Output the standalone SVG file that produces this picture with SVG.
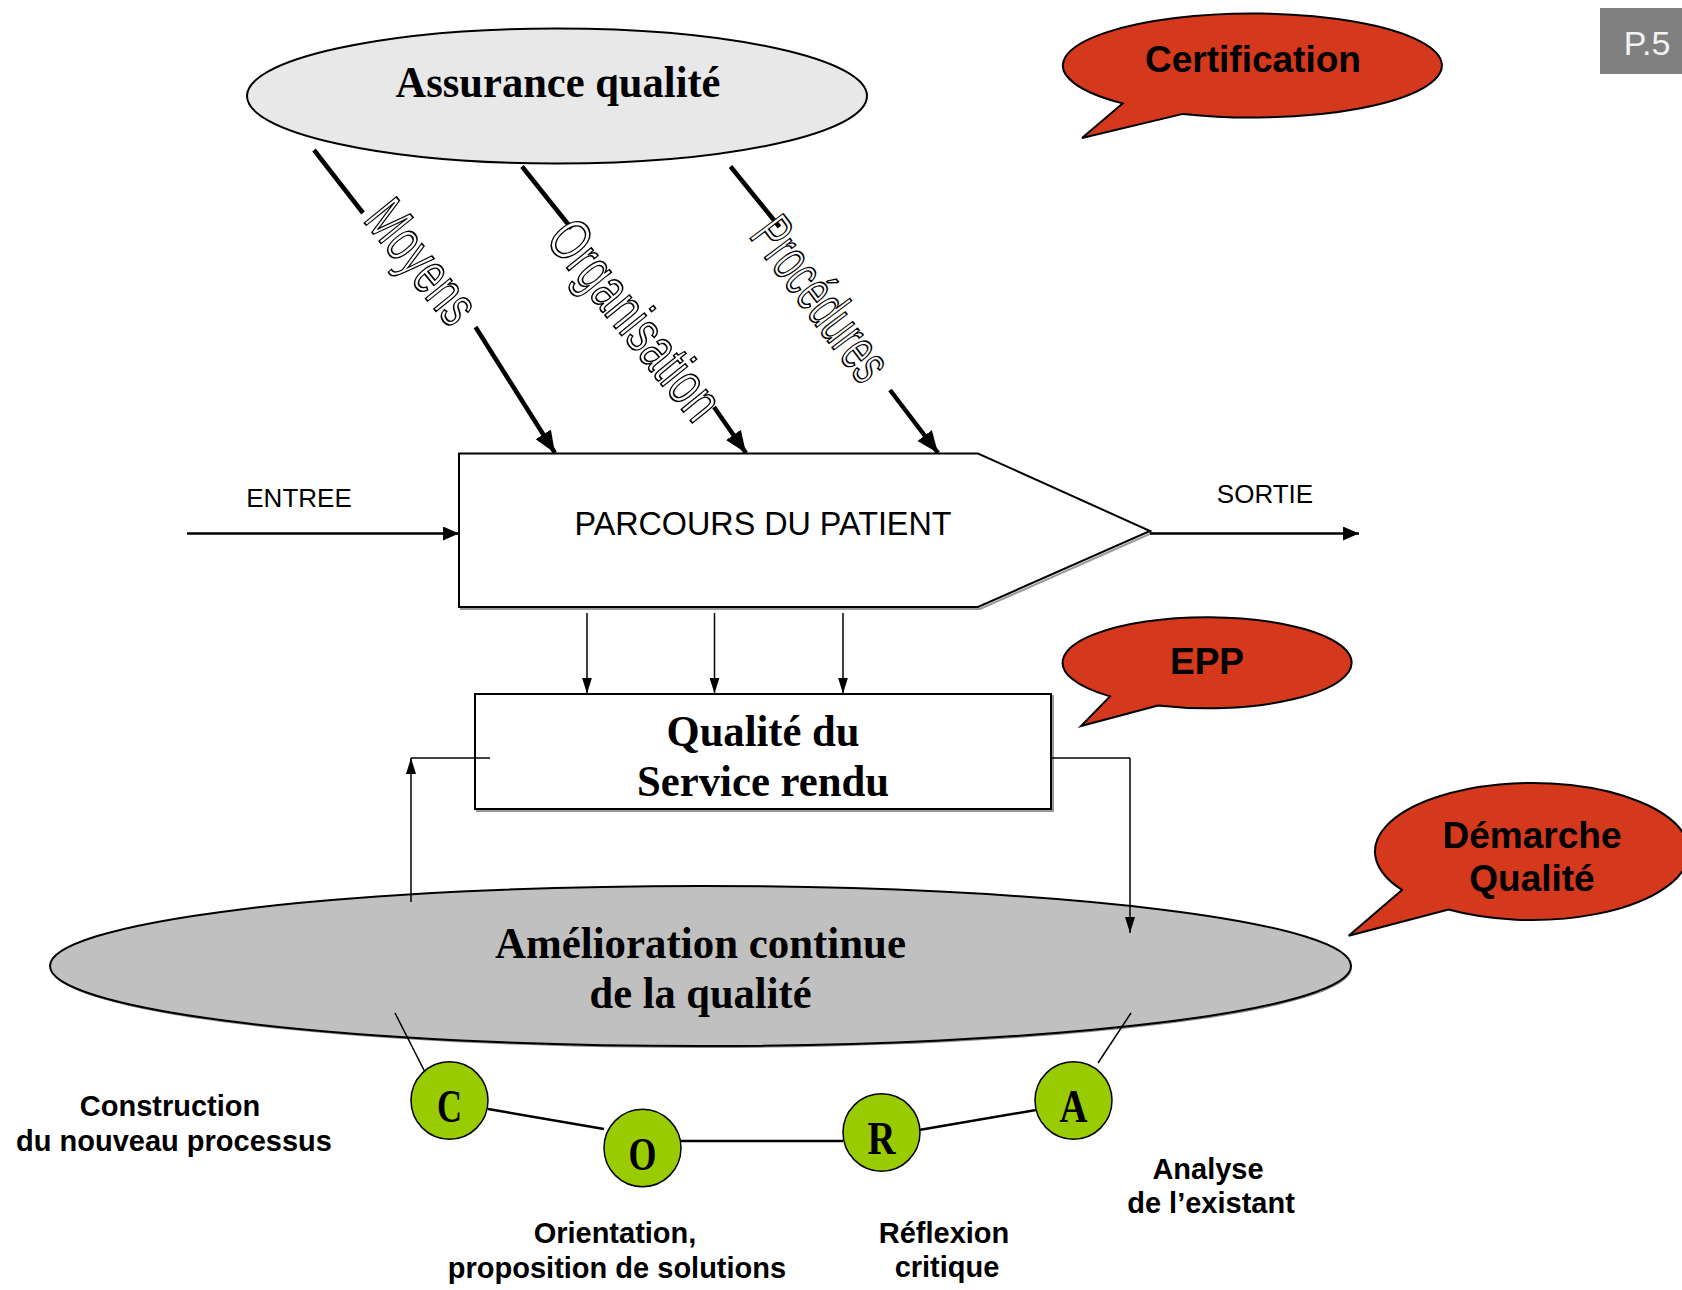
<svg xmlns="http://www.w3.org/2000/svg" width="1682" height="1290" viewBox="0 0 1682 1290">
<defs>
<style>
.serifb{font-family:"Liberation Serif","Times New Roman",serif;font-weight:bold;fill:#000}
.sans{font-family:"Liberation Sans",Arial,sans-serif;fill:#000}
.sansb{font-family:"Liberation Sans",Arial,sans-serif;font-weight:bold;fill:#000}
.outline{font-family:"Liberation Sans",Arial,sans-serif;fill:#fff;stroke:#000;stroke-width:1.7}
.bubble{fill:#D4381D;stroke:#000;stroke-width:2}
.cora{fill:#99CC00;stroke:#000;stroke-width:1.5}
.thick{stroke:#000;stroke-width:4.5;fill:none}
.thin{stroke:#000;stroke-width:1.5;fill:none}
.med{stroke:#000;stroke-width:2.5;fill:none}
</style>
<marker id="arrThick" markerUnits="userSpaceOnUse" markerWidth="24" markerHeight="20" refX="22" refY="9" orient="auto"><path d="M0,0 L22,9 L0,18 z" fill="#000"/></marker>
<marker id="arrMed" markerUnits="userSpaceOnUse" markerWidth="18" markerHeight="16" refX="16" refY="7" orient="auto"><path d="M0,0 L16,7 L0,14 z" fill="#000"/></marker>
<marker id="arrThin" markerUnits="userSpaceOnUse" markerWidth="18" markerHeight="12" refX="16" refY="5" orient="auto"><path d="M0,0 L16,5 L0,10 z" fill="#000"/></marker>
</defs>
<rect width="1682" height="1290" fill="#fff"/>

<g id="p5">
<rect x="1600" y="8" width="82" height="66" fill="#808080"/>
<text x="1647" y="55" class="sans" font-size="34" text-anchor="middle" style="fill:#f2f2f2">P.5</text>
</g>

<g id="assurance">
<ellipse cx="557" cy="96" rx="310" ry="67.5" fill="#e8e8e8" stroke="#000" stroke-width="2"/>
<text x="558" y="97" class="serifb" font-size="45" text-anchor="middle" textLength="325" lengthAdjust="spacingAndGlyphs">Assurance qualité</text>
</g>

<g id="certification">
<path class="bubble" d="M1122.6,103.4 L1082,138 L1183,113.9 A189.5 52 0 1 0 1122.6,103.4 Z"/>
<text x="1253" y="72" class="sansb" font-size="37" text-anchor="middle">Certification</text>
</g>

<g id="parcours">
<path d="M461,456 L980,456 L1152,533 L980,609 L461,609 Z" fill="none" stroke="#999" stroke-width="2"/>
<path d="M459,453.5 L978,453.5 L1150,531 L978,607 L459,607 Z" fill="#fff" stroke="#000" stroke-width="2"/>
<text x="763" y="535" class="sans" font-size="33" text-anchor="middle" textLength="377" lengthAdjust="spacingAndGlyphs">PARCOURS DU PATIENT</text>
</g>

<g id="entree-label"><text x="299" y="507" class="sans" font-size="26" text-anchor="middle">ENTREE</text></g>
<g id="sortie-label"><text x="1265" y="503" class="sans" font-size="26" text-anchor="middle">SORTIE</text></g>

<g id="qualite">
<rect x="477" y="696" width="576" height="115" fill="none" stroke="#999" stroke-width="2"/>
<rect x="475" y="694" width="576" height="115" fill="#fff" stroke="#000" stroke-width="2"/>
<text x="763" y="746" class="serifb" font-size="44" text-anchor="middle" textLength="193" lengthAdjust="spacingAndGlyphs">Qualité du</text>
<text x="763" y="796" class="serifb" font-size="44" text-anchor="middle" textLength="252" lengthAdjust="spacingAndGlyphs">Service rendu</text>
</g>

<g id="epp">
<path class="bubble" d="M1110,696.4 L1081,726 L1158,705.5 A144.5 45.5 0 1 0 1110,696.4 Z"/>
<text x="1207" y="674" class="sansb" font-size="37" text-anchor="middle">EPP</text>
</g>

<g id="demarche">
<path class="bubble" d="M1402,889.9 L1348.7,935.7 L1448.5,909.5 A157 68.5 0 1 0 1402,889.9 Z"/>
<text x="1532" y="848" class="sansb" font-size="37" text-anchor="middle">Démarche</text>
<text x="1532" y="891" class="sansb" font-size="37" text-anchor="middle">Qualité</text>
</g>

<g id="amelioration">
<ellipse cx="701.5" cy="968" rx="650.5" ry="80" fill="#888"/>
<ellipse cx="700.5" cy="966" rx="650.5" ry="80" fill="#c0c0c0" stroke="#000" stroke-width="2"/>
<text x="700.5" y="958" class="serifb" font-size="44" text-anchor="middle" textLength="411" lengthAdjust="spacingAndGlyphs">Amélioration continue</text>
<text x="700.5" y="1008" class="serifb" font-size="44" text-anchor="middle" textLength="222" lengthAdjust="spacingAndGlyphs">de la qualité</text>
</g>

<g id="connectors">
<line class="thick" x1="314" y1="150" x2="363" y2="213"/>
<line class="thick" x1="475.5" y1="327" x2="555" y2="453" marker-end="url(#arrThick)"/>
<line class="thick" x1="522" y1="166.5" x2="571.5" y2="228.5"/>
<line class="thick" x1="714" y1="407" x2="746" y2="453" marker-end="url(#arrThick)"/>
<line class="thick" x1="730.5" y1="166.5" x2="779.5" y2="227"/>
<line class="thick" x1="890" y1="390" x2="938" y2="453" marker-end="url(#arrThick)"/>
<line class="med" x1="187" y1="533.5" x2="459" y2="533.5" marker-end="url(#arrMed)"/>
<line class="med" x1="1150" y1="533.5" x2="1359" y2="533.5" marker-end="url(#arrMed)"/>
<line class="thin" x1="587" y1="613" x2="587" y2="693.5" marker-end="url(#arrThin)"/>
<line class="thin" x1="714.5" y1="613" x2="714.5" y2="693.5" marker-end="url(#arrThin)"/>
<line class="thin" x1="843" y1="613" x2="843" y2="693.5" marker-end="url(#arrThin)"/>
<line class="thin" x1="411" y1="902" x2="411" y2="758" marker-end="url(#arrThin)"/>
<line class="thin" x1="411" y1="758" x2="490" y2="758"/>
<line class="thin" x1="1051" y1="758" x2="1130" y2="758"/>
<line class="thin" x1="1130" y1="758" x2="1130" y2="933" marker-end="url(#arrThin)"/>
<line class="thin" x1="395" y1="1013" x2="428" y2="1078"/>
<line class="thin" x1="1131" y1="1013" x2="1098" y2="1063"/>
<line class="med" x1="488" y1="1109" x2="604" y2="1129"/>
<line class="med" x1="681" y1="1141" x2="843" y2="1141"/>
<line class="med" x1="919" y1="1130" x2="1036" y2="1110"/>
</g>

<g id="label-moyens"><text transform="translate(423,261) rotate(51)" class="outline" font-size="60" text-anchor="middle" dy="0.36em" textLength="140" lengthAdjust="spacingAndGlyphs">Moyens</text></g>
<g id="label-organisation"><text transform="translate(636,319) rotate(51)" class="outline" font-size="60" text-anchor="middle" dy="0.36em" textLength="238" lengthAdjust="spacingAndGlyphs">Organisation</text></g>
<g id="label-procedures"><text transform="translate(822,298) rotate(53)" class="outline" font-size="60" text-anchor="middle" dy="0.36em" textLength="188" lengthAdjust="spacingAndGlyphs">Procédures</text></g>

<g id="node-c"><ellipse class="cora" cx="449.5" cy="1100.5" rx="38.5" ry="38.7"/><text x="449.5" y="1122" class="serifb" font-size="47" text-anchor="middle" textLength="25" lengthAdjust="spacingAndGlyphs">C</text></g>
<g id="node-o"><ellipse class="cora" cx="642.5" cy="1148" rx="38.5" ry="38.7"/><text x="642.5" y="1170" class="serifb" font-size="47" text-anchor="middle" textLength="28" lengthAdjust="spacingAndGlyphs">O</text></g>
<g id="node-r"><ellipse class="cora" cx="881.5" cy="1132.5" rx="38.5" ry="38.7"/><text x="881.5" y="1154" class="serifb" font-size="47" text-anchor="middle" textLength="28" lengthAdjust="spacingAndGlyphs">R</text></g>
<g id="node-a"><ellipse class="cora" cx="1073.5" cy="1100.5" rx="38.5" ry="38.7"/><text x="1073.5" y="1122" class="serifb" font-size="47" text-anchor="middle" textLength="28" lengthAdjust="spacingAndGlyphs">A</text></g>

<g id="label-construction">
<text x="170" y="1116" class="sansb" font-size="29" text-anchor="middle">Construction</text>
<text x="174" y="1151" class="sansb" font-size="29" text-anchor="middle">du nouveau processus</text>
</g>
<g id="label-orientation">
<text x="615" y="1243" class="sansb" font-size="29" text-anchor="middle">Orientation,</text>
<text x="617" y="1278" class="sansb" font-size="29" text-anchor="middle">proposition de solutions</text>
</g>
<g id="label-reflexion">
<text x="944" y="1243" class="sansb" font-size="29" text-anchor="middle">Réflexion</text>
<text x="947" y="1277" class="sansb" font-size="29" text-anchor="middle">critique</text>
</g>
<g id="label-analyse">
<text x="1208" y="1179" class="sansb" font-size="29" text-anchor="middle">Analyse</text>
<text x="1211" y="1213" class="sansb" font-size="29" text-anchor="middle">de l’existant</text>
</g>
</svg>
